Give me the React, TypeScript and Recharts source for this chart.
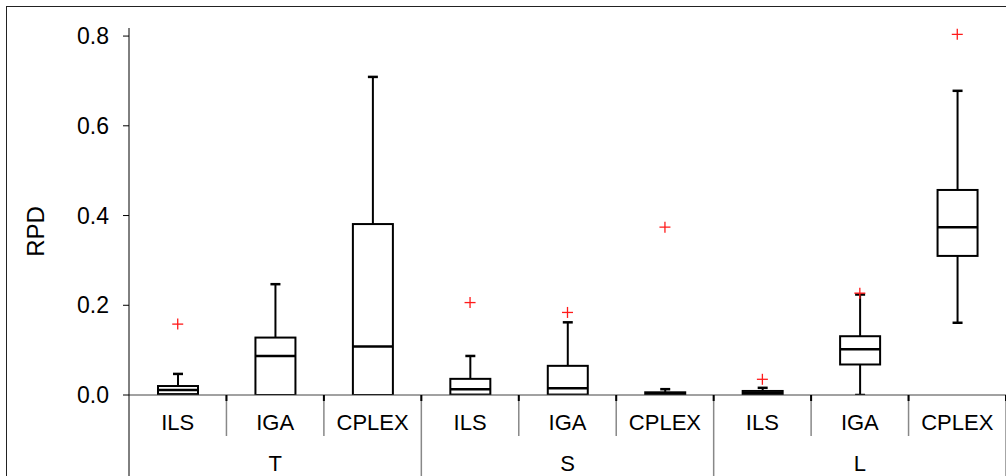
import React from 'react';
import { ComposedChart, Bar, Scatter, XAxis, YAxis } from 'recharts';

// groups and methods along the x axis
const GROUPS = ['T', 'S', 'L'];
const METHODS = ['ILS', 'IGA', 'CPLEX'];

// box plot statistics, one value per (group, method) in order T-ILS ... L-CPLEX
const whiskerLow = [0, 0, 0, 0, 0, 0, 0, 0, 0.161];
const q1 = [0.002, 0, 0, 0.001, 0.001, 0.001, 0.001, 0.068, 0.31];
const median = [0.011, 0.087, 0.108, 0.013, 0.015, 0.003, 0.004, 0.102, 0.374];
const q3 = [0.02, 0.128, 0.381, 0.036, 0.065, 0.006, 0.009, 0.131, 0.457];
const whiskerHigh = [0.047, 0.247, 0.709, 0.087, 0.162, 0.013, 0.016, 0.224, 0.678];
const outliers: (number | null)[] = [0.158, null, null, 0.206, 0.184, 0.374, 0.035, 0.227, 0.804];

const Y_TICKS = [0, 0.2, 0.4, 0.6, 0.8];

const data = GROUPS.flatMap((g, gi) =>
  METHODS.map((m, mi) => {
    const i = gi * 3 + mi;
    return {
      key: `${g}|${m}`,
      low: whiskerLow[i],
      q1: q1[i],
      median: median[i],
      q3: q3[i],
      high: whiskerHigh[i],
      outlier: outliers[i],
    };
  }),
);

const W = 1006;
const H = 476;
const AXIS_W = 129;
const PLOT_W = W - AXIS_W;
const BAND = PLOT_W / data.length;
const FONT = '"Liberation Sans", Arial, sans-serif';

function BoxShape(props: any) {
  const { x, y, width, height, payload } = props;
  const { low, high } = payload;
  const py = (v: number) => y + (height * (high - v)) / (high - low);
  const cx = x + width / 2;
  const cap = 5;
  const top = py(payload.q3);
  const bot = py(payload.q1);
  return (
    <g>
      <line x1={cx} x2={cx} y1={py(high)} y2={top} stroke="#000" strokeWidth={2} />
      <line x1={cx} x2={cx} y1={bot} y2={py(low)} stroke="#000" strokeWidth={2} />
      <line x1={cx - cap} x2={cx + cap} y1={py(high)} y2={py(high)} stroke="#000" strokeWidth={2.5} />
      <line x1={cx - cap} x2={cx + cap} y1={py(low)} y2={py(low)} stroke="#000" strokeWidth={2.5} />
      <rect x={x} y={top} width={width} height={Math.max(bot - top, 0)} fill="#fff" stroke="#000" strokeWidth={2} />
      <line x1={x} x2={x + width} y1={py(payload.median)} y2={py(payload.median)} stroke="#000" strokeWidth={2.5} />
    </g>
  );
}

function PlusShape(props: any) {
  const { cx, cy, payload } = props;
  if (payload == null || payload.outlier == null || !isFinite(cy)) return <g />;
  const s = 5.5;
  return (
    <g stroke="#ff1a1a" strokeWidth={1.3}>
      <line x1={cx - s} x2={cx + s} y1={cy} y2={cy} />
      <line x1={cx} x2={cx} y1={cy - s} y2={cy + s} />
    </g>
  );
}

function CategoryTick(props: any) {
  const { x, y, payload, index } = props;
  const [group, method] = String(payload.value).split('|');
  const half = BAND / 2;
  const right = x + half;
  const groupEnd = index % 3 === 2;
  return (
    <g>
      <text x={x} y={y + 35} textAnchor="middle" fontSize={22} fontFamily={FONT} fill="#000">
        {method}
      </text>
      {index % 3 === 1 && (
        <text x={x} y={y + 76} textAnchor="middle" fontSize={22} fontFamily={FONT} fill="#000">
          {group}
        </text>
      )}
      {index === 0 && <line x1={x - half} x2={x - half} y1={y} y2={y + 81} stroke="#000" strokeWidth={1} />}
      <line x1={right} x2={right} y1={y} y2={groupEnd ? y + 81 : y + 41} stroke="#888" strokeWidth={1.5} />
      <line x1={right} x2={right} y1={y} y2={y + 6} stroke="#000" strokeWidth={2} />
    </g>
  );
}

function AxisTitle(props: any) {
  const { viewBox } = props;
  const cx = viewBox.x + 35;
  const cy = viewBox.y + viewBox.height / 2 + 20;
  return (
    <text x={cx} y={cy} transform={`rotate(-90 ${cx} ${cy})`} textAnchor="middle" dominantBaseline="central"
      fontSize={24} fontFamily={FONT} fill="#000">
      RPD
    </text>
  );
}

export default function App() {
  return (
    <div style={{ position: 'relative', width: W, height: H, overflow: 'hidden', background: '#fff' }}>
      <style>{'body{margin:0}'}</style>
      <div style={{
        position: 'absolute', left: 6, top: 6, width: 1200, height: 1000,
        borderTop: '1px solid #222', borderLeft: '1px solid #222',
      }} />
      <div style={{ position: 'absolute', left: 0, top: 0 }}>
        <ComposedChart width={W} height={H} data={data} margin={{ top: 28, right: 0, bottom: 0, left: 0 }}>
          <XAxis
            dataKey="key"
            height={81}
            interval={0}
            tickSize={0}
            tickMargin={0}
            tickLine={false}
            axisLine={{ stroke: '#444', strokeWidth: 1 }}
            tick={<CategoryTick />}
          />
          <YAxis
            width={AXIS_W}
            domain={[0, 0.818]}
            ticks={Y_TICKS}
            allowDataOverflow
            tickFormatter={(v: number) => v.toFixed(1)}
            tickSize={6}
            tickMargin={14}
            tick={{ fontSize: 23, fill: '#000', fontFamily: FONT }}
            axisLine={{ stroke: '#000' }}
            tickLine={{ stroke: '#000' }}
            label={{ content: <AxisTitle /> }}
          />
          <Bar dataKey={(d: any) => [d.low, d.high]} barSize={40} shape={<BoxShape />} isAnimationActive={false} />
          <Scatter dataKey="outlier" shape={<PlusShape />} isAnimationActive={false} />
        </ComposedChart>
      </div>
    </div>
  );
}
